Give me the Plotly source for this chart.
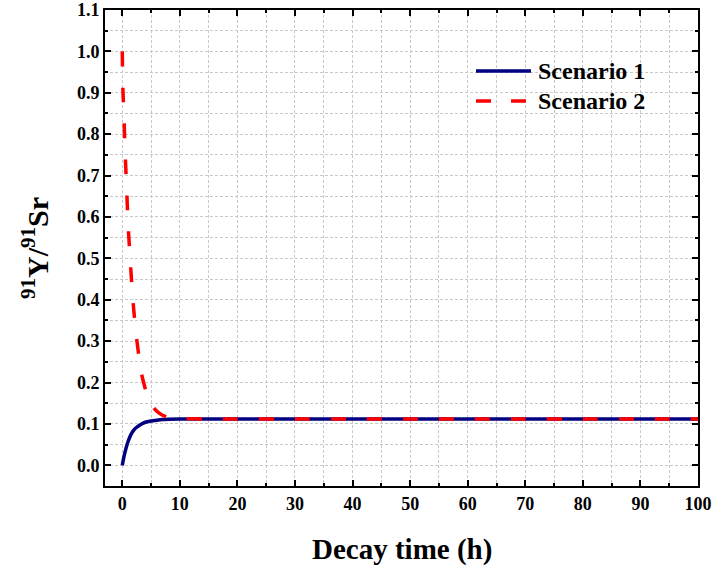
import plotly.graph_objects as go

# Scenario 1
t1 = [0, 0.25, 0.5, 0.75, 1, 1.5, 2, 2.5, 3, 4, 5, 6, 7, 8, 10, 15, 20, 30, 40, 50, 60, 70, 80, 90, 100]
y1 = [0, 0.018, 0.033, 0.046, 0.057, 0.074, 0.085, 0.092, 0.097, 0.104, 0.107, 0.109, 0.1105, 0.1112, 0.112,
      0.112, 0.112, 0.112, 0.112, 0.112, 0.112, 0.112, 0.112, 0.112, 0.112]

# Scenario 2
t2 = [0, 0.12, 0.35, 0.56, 0.82, 1.04, 1.5, 1.9, 2.5, 3.4, 4.6, 5.5, 6.3, 7, 8, 9, 10, 15, 20, 30, 40, 50,
      60, 70, 80, 90, 100]
y2 = [1.0, 0.905, 0.818, 0.735, 0.648, 0.575, 0.470, 0.390, 0.305, 0.218, 0.158, 0.138, 0.127, 0.121, 0.116,
      0.114, 0.113, 0.112, 0.112, 0.112, 0.112, 0.112, 0.112, 0.112, 0.112, 0.112, 0.112]

series_names = ["Scenario 1", "Scenario 2"]
x_title = "Decay time (h)"
y_title = "<sup>91</sup>Y/<sup>91</sup>Sr"

FONT = "Liberation Serif, Times New Roman, serif"
GRID = "#c8c8c8"

fig = go.Figure()
fig.add_trace(go.Scatter(x=t1, y=y1, mode="lines", name=series_names[0], showlegend=False,
                         line=dict(color="#000080", width=3.5, shape="spline", smoothing=0.6)))
fig.add_trace(go.Scatter(x=t2, y=y2, mode="lines", name=series_names[1], showlegend=False,
                         line=dict(color="#ff0000", width=3.5, dash="15px,21px", shape="spline", smoothing=0.6)))

axis_common = dict(
    showline=True, linecolor="black", linewidth=2, mirror="ticks",
    ticks="inside", ticklen=6, tickwidth=2, tickcolor="black",
    showgrid=True, gridcolor=GRID, gridwidth=1, griddash="3px,2px",
    zeroline=False, automargin=False,
    tickfont=dict(family=FONT, size=18, color="black", weight="bold"),
)

fig.update_xaxes(range=[-3, 100], tick0=0, dtick=10,
                 minor=dict(dtick=5, ticks="inside", ticklen=3, tickwidth=2, tickcolor="black",
                            showgrid=True, gridcolor=GRID, gridwidth=1, griddash="3px,2px"),
                 **axis_common)
fig.update_yaxes(range=[-0.05, 1.1], tick0=0, dtick=0.1, tickformat=".1f",
                 minor=dict(dtick=0.05, ticks="inside", ticklen=3, tickwidth=2, tickcolor="black",
                            showgrid=True, gridcolor=GRID, gridwidth=1, griddash="3px,2px"),
                 **axis_common)

# axis titles
fig.add_annotation(text=x_title, xref="paper", yref="paper", x=0.5, y=0, yshift=-63,
                   xanchor="center", yanchor="middle", showarrow=False,
                   font=dict(family=FONT, size=29, color="black", weight="bold"))
fig.add_annotation(text=y_title, xref="paper", yref="paper", x=0, y=0.5, xshift=-70,
                   xanchor="center", yanchor="middle", showarrow=False, textangle=-90,
                   font=dict(family=FONT, size=30, color="black", weight="bold"))

# legend (custom)
L, R, T, B = 105, 698, 10, 486
W, H = R - L, B - T
def px(xp):
    return (xp - L) / W
def py(yp):
    return (B - yp) / H

legend_rows = [(series_names[0], "#000080", "solid", 71), (series_names[1], "#ff0000", "15px,20px", 101)]
for name, col, dash, yy in legend_rows:
    fig.add_shape(type="line", xref="paper", yref="paper", x0=px(476), x1=px(531), y0=py(yy), y1=py(yy),
                  line=dict(color=col, width=3.5, dash=dash))
    fig.add_annotation(text=name, xref="paper", yref="paper", x=px(536), y=py(yy), xanchor="left",
                       yanchor="middle", showarrow=False,
                       font=dict(family=FONT, size=24, color="black", weight="bold"))

fig.update_layout(
    width=713, height=567, autosize=False,
    margin=dict(l=L, r=713 - R, t=T, b=567 - B),
    plot_bgcolor="white", paper_bgcolor="white",
    showlegend=False,
)

fig.write_html("out.html")
